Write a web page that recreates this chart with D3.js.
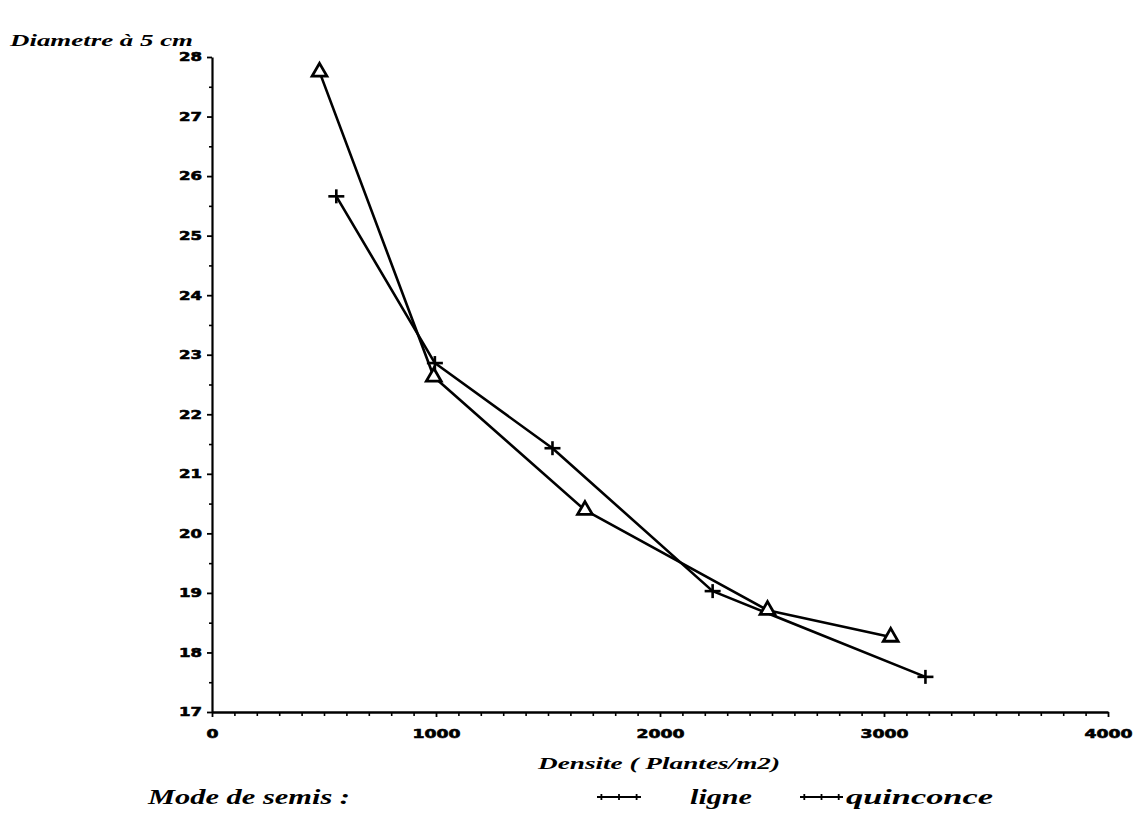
<!DOCTYPE html>
<html>
<head>
<meta charset="utf-8">
<script src="https://cdn.jsdelivr.net/npm/d3@7"></script>
<style>
  html, body { margin: 0; padding: 0; background: #fff; }
  svg { display: block; }
</style>
</head>
<body>
<svg id="chart" width="1141" height="826"></svg>
<script>
// ---- data ----
const seriesNames = ["ligne", "quinconce"];
const ligneDensite   = [480, 990, 1665, 2480, 3030];
const ligneDiametre  = [27.75, 22.63, 20.39, 18.71, 18.26];
const quincDensite   = [555, 995, 1520, 2235, 3185];
const quincDiametre  = [25.66, 22.86, 21.43, 19.03, 17.59];
const xTickLabels = [0, 1000, 2000, 3000, 4000];
const yTickLabels = [17, 18, 19, 20, 21, 22, 23, 24, 25, 26, 27, 28];
const yTitle = "Diametre à 5 cm";
const xTitle = "Densite ( Plantes/m2)";
const legendTitle = "Mode de semis :";

// ---- layout ----
const svg = d3.select("#chart");
svg.append("rect").attr("width", 1141).attr("height", 826).attr("fill", "#fff");

const x = d3.scaleLinear().domain([0, 4000]).range([212, 1108]);
const y = d3.scaleLinear().domain([17, 28]).range([712, 57]);

const titleFont = "'Liberation Serif', 'DejaVu Serif', serif";
const tickFont = "'DejaVu Sans', sans-serif";

// minor ticks y
svg.append("g").attr("transform", `translate(${x(0)},0)`)
  .call(d3.axisLeft(y).tickValues(d3.range(17.5, 28, 1)).tickSize(3).tickFormat(""))
  .call(g => g.select(".domain").remove())
  .call(g => g.selectAll("line").attr("stroke", "#000").attr("stroke-width", 1.6));

// major y axis
const yAx = svg.append("g").attr("transform", `translate(${x(0)},0)`)
  .call(d3.axisLeft(y).tickValues(yTickLabels).tickSize(5).tickSizeOuter(0).tickPadding(5).tickFormat(d3.format("d")));
yAx.select(".domain").attr("stroke", "#000").attr("stroke-width", 2.2);
yAx.selectAll("line").attr("stroke", "#000").attr("stroke-width", 1.8);
yAx.selectAll("text")
  .attr("font-family", tickFont).attr("font-weight", 900).attr("font-size", 12)
  .attr("fill", "#000").attr("stroke", "#000").attr("stroke-width", 0.6)
  .attr("textLength", d => String(d).length * 11.5)
  .attr("lengthAdjust", "spacingAndGlyphs");

// minor ticks x
svg.append("g").attr("transform", `translate(0,${y(17)})`)
  .call(d3.axisBottom(x).tickValues(d3.range(100, 4000, 100).filter(v => v % 1000 !== 0)).tickSize(4).tickFormat(""))
  .call(g => g.select(".domain").remove())
  .call(g => g.selectAll("line").attr("stroke", "#000").attr("stroke-width", 1.6));

// major x axis
const xAx = svg.append("g").attr("transform", `translate(0,${y(17)})`)
  .call(d3.axisBottom(x).tickValues(xTickLabels).tickSize(5).tickSizeOuter(0).tickPadding(12).tickFormat(d3.format("d")));
xAx.select(".domain").attr("stroke", "#000").attr("stroke-width", 2.4);
xAx.selectAll("line").attr("stroke", "#000").attr("stroke-width", 1.8);
xAx.selectAll("text")
  .attr("font-family", tickFont).attr("font-weight", 900).attr("font-size", 12)
  .attr("fill", "#000").attr("stroke", "#000").attr("stroke-width", 0.6)
  .attr("textLength", d => String(d).length * 12)
  .attr("lengthAdjust", "spacingAndGlyphs");

// ---- series ----
const line = d3.line().x(d => x(d[0])).y(d => y(d[1]));
const ligne = ligneDensite.map((d, i) => [d, ligneDiametre[i]]);
const quinc = quincDensite.map((d, i) => [d, quincDiametre[i]]);

[ligne, quinc].forEach(s => {
  svg.append("path").datum(s).attr("d", line)
    .attr("fill", "none").attr("stroke", "#000").attr("stroke-width", 2.6)
    .attr("stroke-linejoin", "round");
});

// triangles
const tri = d3.symbol().type(d3.symbolTriangle).size(95);
svg.append("g").selectAll("path").data(ligne).join("path")
  .attr("d", tri)
  .attr("transform", d => `translate(${x(d[0])},${y(d[1])})`)
  .attr("fill", "#fff").attr("stroke", "#000").attr("stroke-width", 2.8)
  .attr("stroke-linejoin", "miter");

// crosses
const crossG = svg.append("g").selectAll("g").data(quinc).join("g")
  .attr("transform", d => `translate(${x(d[0])},${y(d[1])})`);
crossG.append("line").attr("x1", -8).attr("x2", 8).attr("y1", 0).attr("y2", 0)
  .attr("stroke", "#000").attr("stroke-width", 2.6);
crossG.append("line").attr("x1", 0).attr("x2", 0).attr("y1", -7).attr("y2", 7)
  .attr("stroke", "#000").attr("stroke-width", 2.6);

// ---- titles ----
svg.append("text").text(yTitle)
  .attr("x", 10).attr("y", 46)
  .attr("font-family", titleFont).attr("font-weight", "bold").attr("font-style", "italic")
  .attr("font-size", 17).attr("textLength", 183).attr("lengthAdjust", "spacingAndGlyphs");

svg.append("text").text(xTitle)
  .attr("x", 538).attr("y", 769)
  .attr("font-family", titleFont).attr("font-weight", "bold").attr("font-style", "italic")
  .attr("font-size", 17).attr("textLength", 242).attr("lengthAdjust", "spacingAndGlyphs");

// ---- legend ----
const legY = 797;
svg.append("text").text(legendTitle)
  .attr("x", 148).attr("y", legY + 7)
  .attr("font-family", titleFont).attr("font-weight", "bold").attr("font-style", "italic")
  .attr("font-size", 22).attr("textLength", 202).attr("lengthAdjust", "spacingAndGlyphs");

const legendItems = [
  { name: seriesNames[0], x0: 597, x1: 641, tx: 690, tw: 62 },
  { name: seriesNames[1], x0: 800, x1: 843, tx: 846, tw: 147 }
];
legendItems.forEach(it => {
  svg.append("line").attr("x1", it.x0).attr("x2", it.x1).attr("y1", legY).attr("y2", legY)
    .attr("stroke", "#000").attr("stroke-width", 2.2);
  [0.1, 0.5, 0.9].forEach(f => {
    const cx = it.x0 + f * (it.x1 - it.x0);
    svg.append("line").attr("x1", cx).attr("x2", cx).attr("y1", legY - 3).attr("y2", legY + 3)
      .attr("stroke", "#000").attr("stroke-width", 1.8);
  });
  svg.append("text").text(it.name)
    .attr("x", it.tx).attr("y", legY + 7)
    .attr("font-family", titleFont).attr("font-weight", "bold").attr("font-style", "italic")
    .attr("font-size", 22).attr("textLength", it.tw).attr("lengthAdjust", "spacingAndGlyphs");
});
</script>
</body>
</html>
